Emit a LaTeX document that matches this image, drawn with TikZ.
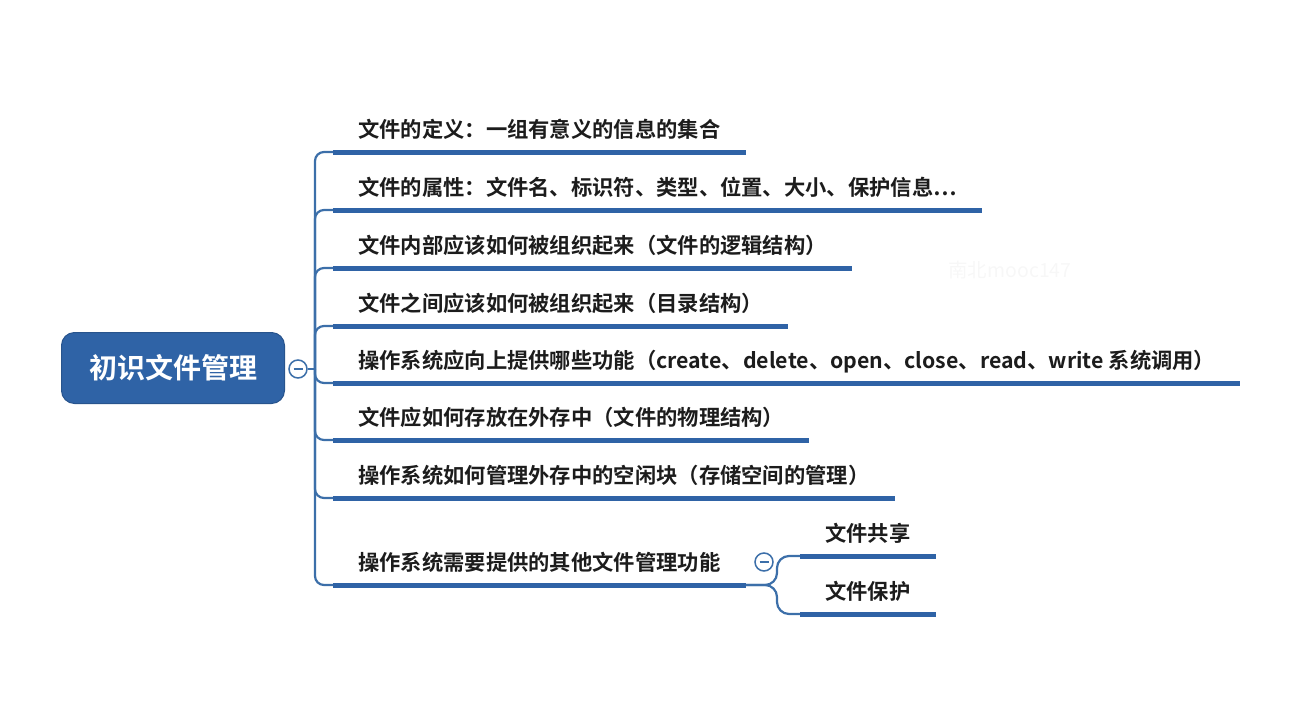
\documentclass[tikz,border=0pt]{standalone}
\usepackage{fontspec}
\setmainfont{Noto Sans CJK SC}[BoldFont={Noto Sans CJK SC Bold}]
\usepackage{tikz}
\usetikzlibrary{positioning}
\definecolor{mapblue}{HTML}{2F63A6}
\definecolor{linkblue}{HTML}{3C6FA9}
\definecolor{inkgray}{HTML}{1C1C1C}

\begin{document}
\begin{tikzpicture}[
    x=1pt, y=-1pt,
    root/.style={rectangle, rounded corners=13pt, fill=mapblue, draw=mapblue!85!black, line width=1pt, text=white, font=\fontsize{28}{31}\selectfont\bfseries, minimum width=223pt, minimum height=71pt},
    topic/.style={anchor=south west, inner xsep=25pt, inner ysep=10pt, text height=15pt, text depth=4pt, text=inkgray, font=\fontsize{21.3}{25}\selectfont\bfseries},
    uline/.style={draw=mapblue, line width=5pt},
    link/.style={draw=linkblue, line width=2.2pt, rounded corners=9pt},
    toggle/.style={circle, draw=linkblue, line width=1.5pt, fill=white, minimum size=18pt, inner sep=0pt, path picture={\draw[linkblue, line width=1.8pt] ([xshift=-4.5pt]path picture bounding box.center) -- ([xshift=4.5pt]path picture bounding box.center);}}
]
    \useasboundingbox (0,0) rectangle (1306,712);

    % root and its toggle
    \node [root] (root) at (173,368) {初识文件管理};
    \node [toggle] (tg1) at (298,369) {};
    \coordinate (hub) at (315,369);

    % main topics
    \node [topic] (b1) at (333,152) {文件的定义：一组有意义的信息的集合};
    \node [topic] (b2) at (333,210) {文件的属性：文件名、标识符、类型、位置、大小、保护信息…};
    \node [topic] (b3) at (333,268) {文件内部应该如何被组织起来（文件的逻辑结构）};
    \node [topic] (b4) at (333,326) {文件之间应该如何被组织起来（目录结构）};
    \node [topic] (b5) at (333,383) {操作系统应向上提供哪些功能（create、delete、open、close、read、write 系统调用）};
    \node [topic] (b6) at (333,440) {文件应如何存放在外存中（文件的物理结构）};
    \node [topic] (b7) at (333,498) {操作系统如何管理外存中的空闲块（存储空间的管理）};
    \node [topic] (b8) at (333,585) {操作系统需要提供的其他文件管理功能};

    % sub topics
    \node [topic] (s1) at (800,556) {文件共享};
    \node [topic] (s2) at (800,614) {文件保护};
    \node [toggle] (tg2) at (764,562) {};
    \coordinate (fork) at (777,585);

    % watermark
    \node [text=black!3, font=\fontsize{19.5}{22}\selectfont] (mark) at (1010,270) {南北mooc147};

    % connectors
    \draw [link] (tg1) -- (hub);
    \draw [link] (hub) |- (b1.south west);
    \draw [link] (hub) |- (b2.south west);
    \draw [link] (hub) |- (b3.south west);
    \draw [link] (hub) |- (b4.south west);
    \draw [link] (hub) |- (b5.south west);
    \draw [link] (hub) |- (b6.south west);
    \draw [link] (hub) |- (b7.south west);
    \draw [link] (hub) |- (b8.south west);
    \draw [link, rounded corners=12pt] (b8.south east) -- (fork) |- (s1.south west);
    \draw [link, rounded corners=12pt] (b8.south east) -- (fork) |- (s2.south west);

    % underlines
    \draw [uline] (b1.south west) -- (b1.south east);
    \draw [uline] (b2.south west) -- (b2.south east);
    \draw [uline] (b3.south west) -- (b3.south east);
    \draw [uline] (b4.south west) -- (b4.south east);
    \draw [uline] (b5.south west) -- (b5.south east);
    \draw [uline] (b6.south west) -- (b6.south east);
    \draw [uline] (b7.south west) -- (b7.south east);
    \draw [uline] (b8.south west) -- (b8.south east);
    \draw [uline] (s1.south west) -- (s1.south east);
    \draw [uline] (s2.south west) -- (s2.south east);
\end{tikzpicture}
\end{document}
